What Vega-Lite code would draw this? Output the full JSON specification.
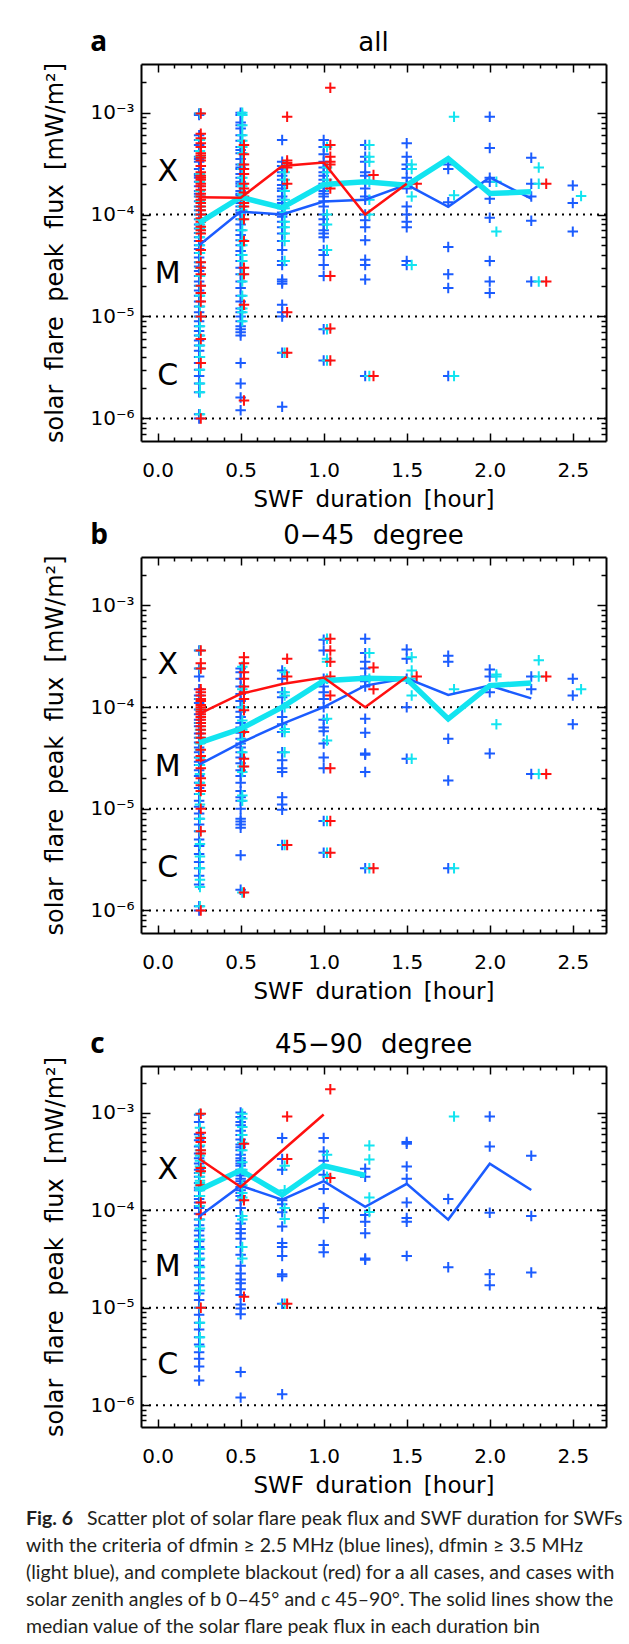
{
"$schema":"https://vega.github.io/schema/vega-lite/v6.json",
"background":"white",
"padding":{"left":26,"top":28,"right":5,"bottom":0},
"spacing":78,
"bounds":"flush",
"datasets":{
"refs":[{"y":1e-4},{"y":1e-5},{"y":1e-6}],
"cls":[{"t":"X","y":2.6e-4},{"t":"M","y":2.6e-5},{"t":"C","y":2.6e-6}],
"ttl":[{"p":"a","letter":"a","title":"all"},{"p":"b","letter":"b","title":"0−45\u2002\u2009degree"},{"p":"c","letter":"c","title":"45−90\u2002\u2009degree"}],
"cap":[
{"line":1,"part":"fig","text":"Fig. 6"},
{"line":1,"part":"first","text":"Scatter plot of solar flare peak flux and SWF duration for SWFs"},
{"line":2,"part":"rest","text":"with the criteria of dfmin ≥ 2.5 MHz (blue lines), dfmin ≥ 3.5 MHz"},
{"line":3,"part":"rest","text":"(light blue), and complete blackout (red) for a all cases, and cases with"},
{"line":4,"part":"rest","text":"solar zenith angles of b 0–45° and c 45–90°. The solid lines show the"},
{"line":5,"part":"rest","text":"median value of the solar flare peak flux in each duration bin"}],
"med":[
{"p":"a","s":"b","x":0.25,"y":5e-5},{"p":"a","s":"b","x":0.5,"y":1.07e-4},{"p":"a","s":"b","x":0.75,"y":1e-4},{"p":"a","s":"b","x":1,"y":1.34e-4},{"p":"a","s":"b","x":1.25,"y":1.4e-4},{"p":"a","s":"b","x":1.5,"y":1.97e-4},{"p":"a","s":"b","x":1.75,"y":1.19e-4},{"p":"a","s":"b","x":2,"y":2.31e-4},{"p":"a","s":"b","x":2.25,"y":1.43e-4},
{"p":"a","s":"c","x":0.25,"y":8.3e-5},{"p":"a","s":"c","x":0.5,"y":1.48e-4},{"p":"a","s":"c","x":0.75,"y":1.17e-4},{"p":"a","s":"c","x":1,"y":1.97e-4},{"p":"a","s":"c","x":1.25,"y":2.1e-4},{"p":"a","s":"c","x":1.5,"y":1.94e-4},{"p":"a","s":"c","x":1.75,"y":3.54e-4},{"p":"a","s":"c","x":2,"y":1.61e-4},{"p":"a","s":"c","x":2.25,"y":1.67e-4},
{"p":"a","s":"r","x":0.25,"y":1.48e-4},{"p":"a","s":"r","x":0.5,"y":1.46e-4},{"p":"a","s":"r","x":0.75,"y":2.99e-4},{"p":"a","s":"r","x":1,"y":3.24e-4},{"p":"a","s":"r","x":1.25,"y":1e-4},{"p":"a","s":"r","x":1.5,"y":2e-4},
{"p":"b","s":"b","x":0.25,"y":2.72e-5},{"p":"b","s":"b","x":0.5,"y":4.45e-5},{"p":"b","s":"b","x":0.75,"y":6.86e-5},{"p":"b","s":"b","x":1,"y":1e-4},{"p":"b","s":"b","x":1.25,"y":1.63e-4},{"p":"b","s":"b","x":1.5,"y":1.92e-4},{"p":"b","s":"b","x":1.75,"y":1.32e-4},{"p":"b","s":"b","x":2,"y":1.63e-4},{"p":"b","s":"b","x":2.25,"y":1.22e-4},
{"p":"b","s":"c","x":0.25,"y":4.45e-5},{"p":"b","s":"c","x":0.5,"y":6.12e-5},{"p":"b","s":"c","x":0.75,"y":1e-4},{"p":"b","s":"c","x":1,"y":1.82e-4},{"p":"b","s":"c","x":1.25,"y":1.92e-4},{"p":"b","s":"c","x":1.5,"y":1.89e-4},{"p":"b","s":"c","x":1.75,"y":7.67e-5},{"p":"b","s":"c","x":2,"y":1.63e-4},{"p":"b","s":"c","x":2.25,"y":1.73e-4},
{"p":"b","s":"r","x":0.25,"y":8.6e-5},{"p":"b","s":"r","x":0.5,"y":1.35e-4},{"p":"b","s":"r","x":0.75,"y":1.69e-4},{"p":"b","s":"r","x":1,"y":1.96e-4},{"p":"b","s":"r","x":1.25,"y":1e-4},{"p":"b","s":"r","x":1.5,"y":1.99e-4},
{"p":"c","s":"b","x":0.25,"y":8.6e-5},{"p":"c","s":"b","x":0.5,"y":1.78e-4},{"p":"c","s":"b","x":0.75,"y":1.28e-4},{"p":"c","s":"b","x":1,"y":1.98e-4},{"p":"c","s":"b","x":1.25,"y":1.08e-4},{"p":"c","s":"b","x":1.5,"y":1.86e-4},{"p":"c","s":"b","x":1.75,"y":8e-5},{"p":"c","s":"b","x":2,"y":2.99e-4},{"p":"c","s":"b","x":2.25,"y":1.61e-4},
{"p":"c","s":"c","x":0.25,"y":1.61e-4},{"p":"c","s":"c","x":0.5,"y":2.56e-4},{"p":"c","s":"c","x":0.75,"y":1.44e-4},{"p":"c","s":"c","x":1,"y":2.85e-4},{"p":"c","s":"c","x":1.25,"y":2.27e-4},
{"p":"c","s":"r","x":0.25,"y":3.36e-4},{"p":"c","s":"r","x":0.5,"y":1.73e-4},{"p":"c","s":"r","x":1,"y":9.56e-4}],
"pts":[
{"p":"a","s":"b","x":0.25,"y":9.8e-4},{"p":"a","s":"b","x":0.25,"y":9.5e-4},{"p":"a","s":"b","x":0.25,"y":6e-4},{"p":"a","s":"b","x":0.25,"y":5.4e-4},{"p":"a","s":"b","x":0.25,"y":4.8e-4},{"p":"a","s":"b","x":0.25,"y":4.2e-4},{"p":"a","s":"b","x":0.25,"y":3.7e-4},{"p":"a","s":"b","x":0.25,"y":3.5e-4},{"p":"a","s":"b","x":0.25,"y":3.3e-4},{"p":"a","s":"b","x":0.25,"y":2.8e-4},{"p":"a","s":"b","x":0.25,"y":2.5e-4},{"p":"a","s":"b","x":0.25,"y":2.4e-4},{"p":"a","s":"b","x":0.25,"y":2.3e-4},{"p":"a","s":"b","x":0.25,"y":2.1e-4},{"p":"a","s":"b","x":0.25,"y":1.9e-4},{"p":"a","s":"b","x":0.25,"y":1.7e-4},{"p":"a","s":"b","x":0.25,"y":1.6e-4},{"p":"a","s":"b","x":0.25,"y":1.5e-4},{"p":"a","s":"b","x":0.25,"y":1.35e-4},{"p":"a","s":"b","x":0.25,"y":1.2e-4},{"p":"a","s":"b","x":0.25,"y":1.1e-4},{"p":"a","s":"b","x":0.25,"y":1e-4},{"p":"a","s":"b","x":0.25,"y":9e-5},{"p":"a","s":"b","x":0.25,"y":8e-5},{"p":"a","s":"b","x":0.25,"y":7.3e-5},{"p":"a","s":"b","x":0.25,"y":6.6e-5},{"p":"a","s":"b","x":0.25,"y":6e-5},{"p":"a","s":"b","x":0.25,"y":5.5e-5},{"p":"a","s":"b","x":0.25,"y":5e-5},{"p":"a","s":"b","x":0.25,"y":4.6e-5},{"p":"a","s":"b","x":0.25,"y":4.2e-5},{"p":"a","s":"b","x":0.25,"y":3.8e-5},{"p":"a","s":"b","x":0.25,"y":3.4e-5},{"p":"a","s":"b","x":0.25,"y":3.1e-5},{"p":"a","s":"b","x":0.25,"y":2.8e-5},{"p":"a","s":"b","x":0.25,"y":2.5e-5},{"p":"a","s":"b","x":0.25,"y":2.2e-5},{"p":"a","s":"b","x":0.25,"y":2e-5},{"p":"a","s":"b","x":0.25,"y":1.8e-5},{"p":"a","s":"b","x":0.25,"y":1.6e-5},{"p":"a","s":"b","x":0.25,"y":1.4e-5},{"p":"a","s":"b","x":0.25,"y":1.25e-5},{"p":"a","s":"b","x":0.25,"y":1.1e-5},{"p":"a","s":"b","x":0.25,"y":1e-5},{"p":"a","s":"b","x":0.25,"y":9e-6},{"p":"a","s":"b","x":0.25,"y":8e-6},{"p":"a","s":"b","x":0.25,"y":7.2e-6},{"p":"a","s":"b","x":0.25,"y":6.5e-6},{"p":"a","s":"b","x":0.25,"y":5.8e-6},{"p":"a","s":"b","x":0.25,"y":5.2e-6},{"p":"a","s":"b","x":0.25,"y":4.6e-6},{"p":"a","s":"b","x":0.25,"y":4e-6},{"p":"a","s":"b","x":0.25,"y":3.5e-6},{"p":"a","s":"b","x":0.25,"y":3e-6},{"p":"a","s":"b","x":0.25,"y":2.6e-6},{"p":"a","s":"b","x":0.25,"y":2.2e-6},{"p":"a","s":"b","x":0.25,"y":1.8e-6},{"p":"a","s":"b","x":0.25,"y":1.1e-6},{"p":"a","s":"b","x":0.25,"y":1e-6},
{"p":"a","s":"b","x":0.5,"y":1e-3},{"p":"a","s":"b","x":0.5,"y":9.5e-4},{"p":"a","s":"b","x":0.5,"y":8e-4},{"p":"a","s":"b","x":0.5,"y":7.5e-4},{"p":"a","s":"b","x":0.5,"y":7e-4},{"p":"a","s":"b","x":0.5,"y":6e-4},{"p":"a","s":"b","x":0.5,"y":5.3e-4},{"p":"a","s":"b","x":0.5,"y":4.6e-4},{"p":"a","s":"b","x":0.5,"y":4.3e-4},{"p":"a","s":"b","x":0.5,"y":4e-4},{"p":"a","s":"b","x":0.5,"y":3.5e-4},{"p":"a","s":"b","x":0.5,"y":3.1e-4},{"p":"a","s":"b","x":0.5,"y":2.9e-4},{"p":"a","s":"b","x":0.5,"y":2.8e-4},{"p":"a","s":"b","x":0.5,"y":2.5e-4},{"p":"a","s":"b","x":0.5,"y":2.3e-4},{"p":"a","s":"b","x":0.5,"y":2.1e-4},{"p":"a","s":"b","x":0.5,"y":2e-4},{"p":"a","s":"b","x":0.5,"y":1.9e-4},{"p":"a","s":"b","x":0.5,"y":1.7e-4},{"p":"a","s":"b","x":0.5,"y":1.6e-4},{"p":"a","s":"b","x":0.5,"y":1.55e-4},{"p":"a","s":"b","x":0.5,"y":1.4e-4},{"p":"a","s":"b","x":0.5,"y":1.3e-4},{"p":"a","s":"b","x":0.5,"y":1.2e-4},{"p":"a","s":"b","x":0.5,"y":1.1e-4},{"p":"a","s":"b","x":0.5,"y":1.05e-4},{"p":"a","s":"b","x":0.5,"y":1e-4},{"p":"a","s":"b","x":0.5,"y":9e-5},{"p":"a","s":"b","x":0.5,"y":8e-5},{"p":"a","s":"b","x":0.5,"y":7e-5},{"p":"a","s":"b","x":0.5,"y":6.3e-5},{"p":"a","s":"b","x":0.5,"y":5.6e-5},{"p":"a","s":"b","x":0.5,"y":5e-5},{"p":"a","s":"b","x":0.5,"y":4.4e-5},{"p":"a","s":"b","x":0.5,"y":4e-5},{"p":"a","s":"b","x":0.5,"y":3.5e-5},{"p":"a","s":"b","x":0.5,"y":3e-5},{"p":"a","s":"b","x":0.5,"y":2.6e-5},{"p":"a","s":"b","x":0.5,"y":2.2e-5},{"p":"a","s":"b","x":0.5,"y":1.9e-5},{"p":"a","s":"b","x":0.5,"y":1.6e-5},{"p":"a","s":"b","x":0.5,"y":1.4e-5},{"p":"a","s":"b","x":0.5,"y":1.2e-5},{"p":"a","s":"b","x":0.5,"y":1.1e-5},{"p":"a","s":"b","x":0.5,"y":1e-5},{"p":"a","s":"b","x":0.5,"y":9e-6},{"p":"a","s":"b","x":0.5,"y":8e-6},{"p":"a","s":"b","x":0.5,"y":7.5e-6},{"p":"a","s":"b","x":0.5,"y":7e-6},{"p":"a","s":"b","x":0.5,"y":6.5e-6},{"p":"a","s":"b","x":0.5,"y":3.5e-6},{"p":"a","s":"b","x":0.5,"y":2.2e-6},{"p":"a","s":"b","x":0.5,"y":1.6e-6},{"p":"a","s":"b","x":0.5,"y":1.2e-6},
{"p":"a","s":"b","x":0.75,"y":5.4e-4},{"p":"a","s":"b","x":0.75,"y":3.3e-4},{"p":"a","s":"b","x":0.75,"y":3e-4},{"p":"a","s":"b","x":0.75,"y":2.8e-4},{"p":"a","s":"b","x":0.75,"y":2.6e-4},{"p":"a","s":"b","x":0.75,"y":2.4e-4},{"p":"a","s":"b","x":0.75,"y":2.2e-4},{"p":"a","s":"b","x":0.75,"y":1.95e-4},{"p":"a","s":"b","x":0.75,"y":1.8e-4},{"p":"a","s":"b","x":0.75,"y":1.7e-4},{"p":"a","s":"b","x":0.75,"y":1.5e-4},{"p":"a","s":"b","x":0.75,"y":1.4e-4},{"p":"a","s":"b","x":0.75,"y":1.3e-4},{"p":"a","s":"b","x":0.75,"y":1.15e-4},{"p":"a","s":"b","x":0.75,"y":1.05e-4},{"p":"a","s":"b","x":0.75,"y":1e-4},{"p":"a","s":"b","x":0.75,"y":9.5e-5},{"p":"a","s":"b","x":0.75,"y":8.5e-5},{"p":"a","s":"b","x":0.75,"y":7.5e-5},{"p":"a","s":"b","x":0.75,"y":6.5e-5},{"p":"a","s":"b","x":0.75,"y":5.5e-5},{"p":"a","s":"b","x":0.75,"y":4.5e-5},{"p":"a","s":"b","x":0.75,"y":3.5e-5},{"p":"a","s":"b","x":0.75,"y":3.2e-5},{"p":"a","s":"b","x":0.75,"y":2.3e-5},{"p":"a","s":"b","x":0.75,"y":2.2e-5},{"p":"a","s":"b","x":0.75,"y":2.1e-5},{"p":"a","s":"b","x":0.75,"y":1.3e-5},{"p":"a","s":"b","x":0.75,"y":1.1e-5},{"p":"a","s":"b","x":0.75,"y":1e-5},{"p":"a","s":"b","x":0.75,"y":4.4e-6},{"p":"a","s":"b","x":0.75,"y":1.3e-6},
{"p":"a","s":"b","x":1,"y":5.4e-4},{"p":"a","s":"b","x":1,"y":4.6e-4},{"p":"a","s":"b","x":1,"y":3.9e-4},{"p":"a","s":"b","x":1,"y":3.3e-4},{"p":"a","s":"b","x":1,"y":2.9e-4},{"p":"a","s":"b","x":1,"y":2.6e-4},{"p":"a","s":"b","x":1,"y":2.4e-4},{"p":"a","s":"b","x":1,"y":2.2e-4},{"p":"a","s":"b","x":1,"y":2e-4},{"p":"a","s":"b","x":1,"y":1.9e-4},{"p":"a","s":"b","x":1,"y":1.7e-4},{"p":"a","s":"b","x":1,"y":1.6e-4},{"p":"a","s":"b","x":1,"y":1.5e-4},{"p":"a","s":"b","x":1,"y":1.35e-4},{"p":"a","s":"b","x":1,"y":1.2e-4},{"p":"a","s":"b","x":1,"y":1e-4},{"p":"a","s":"b","x":1,"y":9e-5},{"p":"a","s":"b","x":1,"y":8e-5},{"p":"a","s":"b","x":1,"y":7e-5},{"p":"a","s":"b","x":1,"y":6.5e-5},{"p":"a","s":"b","x":1,"y":6e-5},{"p":"a","s":"b","x":1,"y":4.5e-5},{"p":"a","s":"b","x":1,"y":4e-5},{"p":"a","s":"b","x":1,"y":3.2e-5},{"p":"a","s":"b","x":1,"y":2.5e-5},{"p":"a","s":"b","x":1,"y":7.5e-6},{"p":"a","s":"b","x":1,"y":3.7e-6},
{"p":"a","s":"b","x":1.25,"y":4.8e-4},{"p":"a","s":"b","x":1.25,"y":3.7e-4},{"p":"a","s":"b","x":1.25,"y":3.3e-4},{"p":"a","s":"b","x":1.25,"y":2.6e-4},{"p":"a","s":"b","x":1.25,"y":2.4e-4},{"p":"a","s":"b","x":1.25,"y":2.1e-4},{"p":"a","s":"b","x":1.25,"y":1.8e-4},{"p":"a","s":"b","x":1.25,"y":1.5e-4},{"p":"a","s":"b","x":1.25,"y":1.4e-4},{"p":"a","s":"b","x":1.25,"y":1e-4},{"p":"a","s":"b","x":1.25,"y":8.8e-5},{"p":"a","s":"b","x":1.25,"y":7.5e-5},{"p":"a","s":"b","x":1.25,"y":5.6e-5},{"p":"a","s":"b","x":1.25,"y":3.6e-5},{"p":"a","s":"b","x":1.25,"y":3.2e-5},{"p":"a","s":"b","x":1.25,"y":2.3e-5},{"p":"a","s":"b","x":1.25,"y":2.6e-6},
{"p":"a","s":"b","x":1.5,"y":5e-4},{"p":"a","s":"b","x":1.5,"y":3.7e-4},{"p":"a","s":"b","x":1.5,"y":3.1e-4},{"p":"a","s":"b","x":1.5,"y":2.8e-4},{"p":"a","s":"b","x":1.5,"y":2.3e-4},{"p":"a","s":"b","x":1.5,"y":2e-4},{"p":"a","s":"b","x":1.5,"y":1.8e-4},{"p":"a","s":"b","x":1.5,"y":1.2e-4},{"p":"a","s":"b","x":1.5,"y":1e-4},{"p":"a","s":"b","x":1.5,"y":8.5e-5},{"p":"a","s":"b","x":1.5,"y":7.5e-5},{"p":"a","s":"b","x":1.5,"y":3.5e-5},{"p":"a","s":"b","x":1.5,"y":3.2e-5},
{"p":"a","s":"b","x":1.75,"y":3.1e-4},{"p":"a","s":"b","x":1.75,"y":2.8e-4},{"p":"a","s":"b","x":1.75,"y":1.32e-4},{"p":"a","s":"b","x":1.75,"y":4.8e-5},{"p":"a","s":"b","x":1.75,"y":2.6e-5},{"p":"a","s":"b","x":1.75,"y":1.9e-5},{"p":"a","s":"b","x":1.75,"y":2.6e-6},
{"p":"a","s":"b","x":2,"y":9.1e-4},{"p":"a","s":"b","x":2,"y":4.5e-4},{"p":"a","s":"b","x":2,"y":2.3e-4},{"p":"a","s":"b","x":2,"y":2.1e-4},{"p":"a","s":"b","x":2,"y":1.43e-4},{"p":"a","s":"b","x":2,"y":9.3e-5},{"p":"a","s":"b","x":2,"y":3.5e-5},{"p":"a","s":"b","x":2,"y":2.2e-5},{"p":"a","s":"b","x":2,"y":1.7e-5},
{"p":"a","s":"b","x":2.25,"y":3.6e-4},{"p":"a","s":"b","x":2.25,"y":2e-4},{"p":"a","s":"b","x":2.25,"y":1.5e-4},{"p":"a","s":"b","x":2.25,"y":8.7e-5},{"p":"a","s":"b","x":2.25,"y":2.2e-5},
{"p":"a","s":"b","x":2.5,"y":1.93e-4},{"p":"a","s":"b","x":2.5,"y":1.3e-4},{"p":"a","s":"b","x":2.5,"y":6.8e-5},
{"p":"a","s":"c","x":0.255,"y":9.8e-4},{"p":"a","s":"c","x":0.255,"y":5.4e-4},{"p":"a","s":"c","x":0.255,"y":4.2e-4},{"p":"a","s":"c","x":0.255,"y":3.7e-4},{"p":"a","s":"c","x":0.255,"y":2.5e-4},{"p":"a","s":"c","x":0.255,"y":2.1e-4},{"p":"a","s":"c","x":0.255,"y":1.7e-4},{"p":"a","s":"c","x":0.255,"y":1.5e-4},{"p":"a","s":"c","x":0.255,"y":1.35e-4},{"p":"a","s":"c","x":0.255,"y":1.2e-4},{"p":"a","s":"c","x":0.255,"y":1.1e-4},{"p":"a","s":"c","x":0.255,"y":1e-4},{"p":"a","s":"c","x":0.255,"y":9e-5},{"p":"a","s":"c","x":0.255,"y":8e-5},{"p":"a","s":"c","x":0.255,"y":7.3e-5},{"p":"a","s":"c","x":0.255,"y":6.6e-5},{"p":"a","s":"c","x":0.255,"y":6e-5},{"p":"a","s":"c","x":0.255,"y":5e-5},{"p":"a","s":"c","x":0.255,"y":4.2e-5},{"p":"a","s":"c","x":0.255,"y":3.4e-5},{"p":"a","s":"c","x":0.255,"y":3e-5},{"p":"a","s":"c","x":0.255,"y":2.5e-5},{"p":"a","s":"c","x":0.255,"y":2e-5},{"p":"a","s":"c","x":0.255,"y":1.6e-5},{"p":"a","s":"c","x":0.255,"y":1.25e-5},{"p":"a","s":"c","x":0.255,"y":1e-5},{"p":"a","s":"c","x":0.255,"y":8e-6},{"p":"a","s":"c","x":0.255,"y":6.5e-6},{"p":"a","s":"c","x":0.255,"y":5.2e-6},{"p":"a","s":"c","x":0.255,"y":4e-6},{"p":"a","s":"c","x":0.255,"y":3e-6},{"p":"a","s":"c","x":0.255,"y":2.2e-6},{"p":"a","s":"c","x":0.255,"y":1.8e-6},{"p":"a","s":"c","x":0.255,"y":1.1e-6},
{"p":"a","s":"c","x":0.51,"y":1e-3},{"p":"a","s":"c","x":0.51,"y":9.5e-4},{"p":"a","s":"c","x":0.51,"y":7.5e-4},{"p":"a","s":"c","x":0.51,"y":6e-4},{"p":"a","s":"c","x":0.51,"y":5.3e-4},{"p":"a","s":"c","x":0.51,"y":4.6e-4},{"p":"a","s":"c","x":0.51,"y":4e-4},{"p":"a","s":"c","x":0.51,"y":3.1e-4},{"p":"a","s":"c","x":0.51,"y":2.8e-4},{"p":"a","s":"c","x":0.51,"y":2.3e-4},{"p":"a","s":"c","x":0.51,"y":2e-4},{"p":"a","s":"c","x":0.51,"y":1.9e-4},{"p":"a","s":"c","x":0.51,"y":1.6e-4},{"p":"a","s":"c","x":0.51,"y":1.4e-4},{"p":"a","s":"c","x":0.51,"y":1.2e-4},{"p":"a","s":"c","x":0.51,"y":1.1e-4},{"p":"a","s":"c","x":0.51,"y":9e-5},{"p":"a","s":"c","x":0.51,"y":7e-5},{"p":"a","s":"c","x":0.51,"y":5.6e-5},{"p":"a","s":"c","x":0.51,"y":5e-5},{"p":"a","s":"c","x":0.51,"y":4e-5},{"p":"a","s":"c","x":0.51,"y":3.5e-5},{"p":"a","s":"c","x":0.51,"y":2.6e-5},{"p":"a","s":"c","x":0.51,"y":2.2e-5},{"p":"a","s":"c","x":0.51,"y":1.6e-5},{"p":"a","s":"c","x":0.51,"y":1.2e-5},{"p":"a","s":"c","x":0.51,"y":1.1e-5},{"p":"a","s":"c","x":0.51,"y":9e-6},
{"p":"a","s":"c","x":0.765,"y":3e-4},{"p":"a","s":"c","x":0.765,"y":2.6e-4},{"p":"a","s":"c","x":0.765,"y":2.2e-4},{"p":"a","s":"c","x":0.765,"y":1.7e-4},{"p":"a","s":"c","x":0.765,"y":1.4e-4},{"p":"a","s":"c","x":0.765,"y":1.15e-4},{"p":"a","s":"c","x":0.765,"y":1.05e-4},{"p":"a","s":"c","x":0.765,"y":8.5e-5},{"p":"a","s":"c","x":0.765,"y":7.5e-5},{"p":"a","s":"c","x":0.765,"y":6.5e-5},{"p":"a","s":"c","x":0.765,"y":5.5e-5},{"p":"a","s":"c","x":0.765,"y":3.5e-5},{"p":"a","s":"c","x":0.765,"y":4.4e-6},
{"p":"a","s":"c","x":1.02,"y":4.6e-4},{"p":"a","s":"c","x":1.02,"y":2.9e-4},{"p":"a","s":"c","x":1.02,"y":2.6e-4},{"p":"a","s":"c","x":1.02,"y":2.2e-4},{"p":"a","s":"c","x":1.02,"y":2e-4},{"p":"a","s":"c","x":1.02,"y":1.9e-4},{"p":"a","s":"c","x":1.02,"y":1e-4},{"p":"a","s":"c","x":1.02,"y":8e-5},{"p":"a","s":"c","x":1.02,"y":4.5e-5},{"p":"a","s":"c","x":1.02,"y":7.5e-6},{"p":"a","s":"c","x":1.02,"y":3.7e-6},
{"p":"a","s":"c","x":1.275,"y":4.8e-4},{"p":"a","s":"c","x":1.275,"y":3.7e-4},{"p":"a","s":"c","x":1.275,"y":3.3e-4},{"p":"a","s":"c","x":1.275,"y":2.1e-4},{"p":"a","s":"c","x":1.275,"y":1.4e-4},{"p":"a","s":"c","x":1.275,"y":1e-4},{"p":"a","s":"c","x":1.275,"y":2.6e-6},
{"p":"a","s":"c","x":1.53,"y":3.1e-4},{"p":"a","s":"c","x":1.53,"y":2.8e-4},{"p":"a","s":"c","x":1.53,"y":2e-4},{"p":"a","s":"c","x":1.53,"y":1.5e-4},{"p":"a","s":"c","x":1.53,"y":3.2e-5},
{"p":"a","s":"c","x":1.785,"y":9.1e-4},{"p":"a","s":"c","x":1.785,"y":1.55e-4},{"p":"a","s":"c","x":1.785,"y":2.6e-6},
{"p":"a","s":"c","x":2.04,"y":2.1e-4},{"p":"a","s":"c","x":2.04,"y":6.8e-5},
{"p":"a","s":"c","x":2.295,"y":2.9e-4},{"p":"a","s":"c","x":2.295,"y":2e-4},{"p":"a","s":"c","x":2.295,"y":2.2e-5},
{"p":"a","s":"c","x":2.55,"y":1.52e-4},
{"p":"a","s":"r","x":0.26,"y":9.8e-4},{"p":"a","s":"r","x":0.26,"y":6.2e-4},{"p":"a","s":"r","x":0.26,"y":5.6e-4},{"p":"a","s":"r","x":0.26,"y":5e-4},{"p":"a","s":"r","x":0.26,"y":4.6e-4},{"p":"a","s":"r","x":0.26,"y":4e-4},{"p":"a","s":"r","x":0.26,"y":3.8e-4},{"p":"a","s":"r","x":0.26,"y":3.6e-4},{"p":"a","s":"r","x":0.26,"y":3.4e-4},{"p":"a","s":"r","x":0.26,"y":3e-4},{"p":"a","s":"r","x":0.26,"y":2.6e-4},{"p":"a","s":"r","x":0.26,"y":2.4e-4},{"p":"a","s":"r","x":0.26,"y":2.3e-4},{"p":"a","s":"r","x":0.26,"y":2.2e-4},{"p":"a","s":"r","x":0.26,"y":2e-4},{"p":"a","s":"r","x":0.26,"y":1.9e-4},{"p":"a","s":"r","x":0.26,"y":1.75e-4},{"p":"a","s":"r","x":0.26,"y":1.6e-4},{"p":"a","s":"r","x":0.26,"y":1.5e-4},{"p":"a","s":"r","x":0.26,"y":1.4e-4},{"p":"a","s":"r","x":0.26,"y":1.3e-4},{"p":"a","s":"r","x":0.26,"y":1.2e-4},{"p":"a","s":"r","x":0.26,"y":1.1e-4},{"p":"a","s":"r","x":0.26,"y":1e-4},{"p":"a","s":"r","x":0.26,"y":9.2e-5},{"p":"a","s":"r","x":0.26,"y":8.5e-5},{"p":"a","s":"r","x":0.26,"y":7.6e-5},{"p":"a","s":"r","x":0.26,"y":7e-5},{"p":"a","s":"r","x":0.26,"y":6.5e-5},{"p":"a","s":"r","x":0.26,"y":5.5e-5},{"p":"a","s":"r","x":0.26,"y":4.5e-5},{"p":"a","s":"r","x":0.26,"y":3.4e-5},{"p":"a","s":"r","x":0.26,"y":3e-5},{"p":"a","s":"r","x":0.26,"y":2.6e-5},{"p":"a","s":"r","x":0.26,"y":2e-5},{"p":"a","s":"r","x":0.26,"y":1.7e-5},{"p":"a","s":"r","x":0.26,"y":1.4e-5},{"p":"a","s":"r","x":0.26,"y":1e-5},{"p":"a","s":"r","x":0.26,"y":6e-6},{"p":"a","s":"r","x":0.26,"y":3.5e-6},{"p":"a","s":"r","x":0.26,"y":1e-6},
{"p":"a","s":"r","x":0.52,"y":4.8e-4},{"p":"a","s":"r","x":0.52,"y":3.9e-4},{"p":"a","s":"r","x":0.52,"y":3.1e-4},{"p":"a","s":"r","x":0.52,"y":2.8e-4},{"p":"a","s":"r","x":0.52,"y":2.5e-4},{"p":"a","s":"r","x":0.52,"y":2e-4},{"p":"a","s":"r","x":0.52,"y":1.8e-4},{"p":"a","s":"r","x":0.52,"y":1.65e-4},{"p":"a","s":"r","x":0.52,"y":1.5e-4},{"p":"a","s":"r","x":0.52,"y":1.4e-4},{"p":"a","s":"r","x":0.52,"y":1.3e-4},{"p":"a","s":"r","x":0.52,"y":1.2e-4},{"p":"a","s":"r","x":0.52,"y":9e-5},{"p":"a","s":"r","x":0.52,"y":5.5e-5},{"p":"a","s":"r","x":0.52,"y":3e-5},{"p":"a","s":"r","x":0.52,"y":2.6e-5},{"p":"a","s":"r","x":0.52,"y":1.3e-5},{"p":"a","s":"r","x":0.52,"y":1.5e-6},
{"p":"a","s":"r","x":0.78,"y":9.1e-4},{"p":"a","s":"r","x":0.78,"y":3.4e-4},{"p":"a","s":"r","x":0.78,"y":3.2e-4},{"p":"a","s":"r","x":0.78,"y":2.9e-4},{"p":"a","s":"r","x":0.78,"y":2e-4},{"p":"a","s":"r","x":0.78,"y":1.1e-5},{"p":"a","s":"r","x":0.78,"y":4.4e-6},
{"p":"a","s":"r","x":1.04,"y":1.75e-3},{"p":"a","s":"r","x":1.04,"y":4.8e-4},{"p":"a","s":"r","x":1.04,"y":3.7e-4},{"p":"a","s":"r","x":1.04,"y":3.3e-4},{"p":"a","s":"r","x":1.04,"y":3.1e-4},{"p":"a","s":"r","x":1.04,"y":2e-4},{"p":"a","s":"r","x":1.04,"y":1.8e-4},{"p":"a","s":"r","x":1.04,"y":2.5e-5},{"p":"a","s":"r","x":1.04,"y":7.6e-6},{"p":"a","s":"r","x":1.04,"y":3.7e-6},
{"p":"a","s":"r","x":1.3,"y":2.45e-4},{"p":"a","s":"r","x":1.3,"y":2.6e-6},
{"p":"a","s":"r","x":1.56,"y":2e-4},
{"p":"a","s":"r","x":2.34,"y":2e-4},{"p":"a","s":"r","x":2.34,"y":2.2e-5},
{"p":"b","s":"b","x":0.25,"y":3.6e-4},{"p":"b","s":"b","x":0.25,"y":2.4e-4},{"p":"b","s":"b","x":0.25,"y":2e-4},{"p":"b","s":"b","x":0.25,"y":1.5e-4},{"p":"b","s":"b","x":0.25,"y":1.3e-4},{"p":"b","s":"b","x":0.25,"y":1.2e-4},{"p":"b","s":"b","x":0.25,"y":1.1e-4},{"p":"b","s":"b","x":0.25,"y":9.5e-5},{"p":"b","s":"b","x":0.25,"y":8.5e-5},{"p":"b","s":"b","x":0.25,"y":7.5e-5},{"p":"b","s":"b","x":0.25,"y":7e-5},{"p":"b","s":"b","x":0.25,"y":6.5e-5},{"p":"b","s":"b","x":0.25,"y":5.5e-5},{"p":"b","s":"b","x":0.25,"y":5e-5},{"p":"b","s":"b","x":0.25,"y":4.5e-5},{"p":"b","s":"b","x":0.25,"y":4e-5},{"p":"b","s":"b","x":0.25,"y":3.6e-5},{"p":"b","s":"b","x":0.25,"y":3.2e-5},{"p":"b","s":"b","x":0.25,"y":2.9e-5},{"p":"b","s":"b","x":0.25,"y":2.7e-5},{"p":"b","s":"b","x":0.25,"y":2.4e-5},{"p":"b","s":"b","x":0.25,"y":2.1e-5},{"p":"b","s":"b","x":0.25,"y":1.8e-5},{"p":"b","s":"b","x":0.25,"y":1.6e-5},{"p":"b","s":"b","x":0.25,"y":1.4e-5},{"p":"b","s":"b","x":0.25,"y":1.2e-5},{"p":"b","s":"b","x":0.25,"y":1.05e-5},{"p":"b","s":"b","x":0.25,"y":9e-6},{"p":"b","s":"b","x":0.25,"y":8e-6},{"p":"b","s":"b","x":0.25,"y":7e-6},{"p":"b","s":"b","x":0.25,"y":6e-6},{"p":"b","s":"b","x":0.25,"y":5e-6},{"p":"b","s":"b","x":0.25,"y":4.3e-6},{"p":"b","s":"b","x":0.25,"y":3.6e-6},{"p":"b","s":"b","x":0.25,"y":3e-6},{"p":"b","s":"b","x":0.25,"y":2.6e-6},{"p":"b","s":"b","x":0.25,"y":2.2e-6},{"p":"b","s":"b","x":0.25,"y":1.8e-6},{"p":"b","s":"b","x":0.25,"y":1.1e-6},{"p":"b","s":"b","x":0.25,"y":1e-6},
{"p":"b","s":"b","x":0.5,"y":2.4e-4},{"p":"b","s":"b","x":0.5,"y":2.2e-4},{"p":"b","s":"b","x":0.5,"y":1.9e-4},{"p":"b","s":"b","x":0.5,"y":1.6e-4},{"p":"b","s":"b","x":0.5,"y":1.35e-4},{"p":"b","s":"b","x":0.5,"y":1.15e-4},{"p":"b","s":"b","x":0.5,"y":1e-4},{"p":"b","s":"b","x":0.5,"y":9e-5},{"p":"b","s":"b","x":0.5,"y":8e-5},{"p":"b","s":"b","x":0.5,"y":7e-5},{"p":"b","s":"b","x":0.5,"y":6.3e-5},{"p":"b","s":"b","x":0.5,"y":5.6e-5},{"p":"b","s":"b","x":0.5,"y":4.9e-5},{"p":"b","s":"b","x":0.5,"y":4.4e-5},{"p":"b","s":"b","x":0.5,"y":4e-5},{"p":"b","s":"b","x":0.5,"y":3.6e-5},{"p":"b","s":"b","x":0.5,"y":3.2e-5},{"p":"b","s":"b","x":0.5,"y":2.8e-5},{"p":"b","s":"b","x":0.5,"y":2.4e-5},{"p":"b","s":"b","x":0.5,"y":2.1e-5},{"p":"b","s":"b","x":0.5,"y":1.8e-5},{"p":"b","s":"b","x":0.5,"y":1.5e-5},{"p":"b","s":"b","x":0.5,"y":1.3e-5},{"p":"b","s":"b","x":0.5,"y":1.2e-5},{"p":"b","s":"b","x":0.5,"y":1e-5},{"p":"b","s":"b","x":0.5,"y":8e-6},{"p":"b","s":"b","x":0.5,"y":7.5e-6},{"p":"b","s":"b","x":0.5,"y":7e-6},{"p":"b","s":"b","x":0.5,"y":6.5e-6},{"p":"b","s":"b","x":0.5,"y":3.5e-6},{"p":"b","s":"b","x":0.5,"y":1.6e-6},
{"p":"b","s":"b","x":0.75,"y":2.3e-4},{"p":"b","s":"b","x":0.75,"y":1.9e-4},{"p":"b","s":"b","x":0.75,"y":1.4e-4},{"p":"b","s":"b","x":0.75,"y":1.25e-4},{"p":"b","s":"b","x":0.75,"y":1e-4},{"p":"b","s":"b","x":0.75,"y":8e-5},{"p":"b","s":"b","x":0.75,"y":6.8e-5},{"p":"b","s":"b","x":0.75,"y":5.7e-5},{"p":"b","s":"b","x":0.75,"y":3.6e-5},{"p":"b","s":"b","x":0.75,"y":3e-5},{"p":"b","s":"b","x":0.75,"y":2.5e-5},{"p":"b","s":"b","x":0.75,"y":2.3e-5},{"p":"b","s":"b","x":0.75,"y":1.3e-5},{"p":"b","s":"b","x":0.75,"y":1.1e-5},{"p":"b","s":"b","x":0.75,"y":9.8e-6},{"p":"b","s":"b","x":0.75,"y":4.4e-6},
{"p":"b","s":"b","x":1,"y":4.6e-4},{"p":"b","s":"b","x":1,"y":3.6e-4},{"p":"b","s":"b","x":1,"y":1.9e-4},{"p":"b","s":"b","x":1,"y":1.6e-4},{"p":"b","s":"b","x":1,"y":1.4e-4},{"p":"b","s":"b","x":1,"y":1.2e-4},{"p":"b","s":"b","x":1,"y":1e-4},{"p":"b","s":"b","x":1,"y":7.5e-5},{"p":"b","s":"b","x":1,"y":6.3e-5},{"p":"b","s":"b","x":1,"y":5.8e-5},{"p":"b","s":"b","x":1,"y":4.4e-5},{"p":"b","s":"b","x":1,"y":3.2e-5},{"p":"b","s":"b","x":1,"y":2.5e-5},{"p":"b","s":"b","x":1,"y":7.6e-6},{"p":"b","s":"b","x":1,"y":3.7e-6},
{"p":"b","s":"b","x":1.25,"y":4.7e-4},{"p":"b","s":"b","x":1.25,"y":3.4e-4},{"p":"b","s":"b","x":1.25,"y":2.8e-4},{"p":"b","s":"b","x":1.25,"y":2.4e-4},{"p":"b","s":"b","x":1.25,"y":2e-4},{"p":"b","s":"b","x":1.25,"y":1.8e-4},{"p":"b","s":"b","x":1.25,"y":1.6e-4},{"p":"b","s":"b","x":1.25,"y":7.7e-5},{"p":"b","s":"b","x":1.25,"y":5.6e-5},{"p":"b","s":"b","x":1.25,"y":3.5e-5},{"p":"b","s":"b","x":1.25,"y":3.4e-5},{"p":"b","s":"b","x":1.25,"y":2.3e-5},{"p":"b","s":"b","x":1.25,"y":2.6e-6},
{"p":"b","s":"b","x":1.5,"y":3.7e-4},{"p":"b","s":"b","x":1.5,"y":3e-4},{"p":"b","s":"b","x":1.5,"y":1.9e-4},{"p":"b","s":"b","x":1.5,"y":1e-4},{"p":"b","s":"b","x":1.5,"y":3.1e-5},
{"p":"b","s":"b","x":1.75,"y":3.2e-4},{"p":"b","s":"b","x":1.75,"y":2.8e-4},{"p":"b","s":"b","x":1.75,"y":4.9e-5},{"p":"b","s":"b","x":1.75,"y":1.9e-5},{"p":"b","s":"b","x":1.75,"y":2.6e-6},
{"p":"b","s":"b","x":2,"y":2.35e-4},{"p":"b","s":"b","x":2,"y":2e-4},{"p":"b","s":"b","x":2,"y":1.4e-4},{"p":"b","s":"b","x":2,"y":3.5e-5},
{"p":"b","s":"b","x":2.25,"y":2e-4},{"p":"b","s":"b","x":2.25,"y":1.5e-4},{"p":"b","s":"b","x":2.25,"y":2.2e-5},
{"p":"b","s":"b","x":2.5,"y":1.9e-4},{"p":"b","s":"b","x":2.5,"y":1.3e-4},{"p":"b","s":"b","x":2.5,"y":6.8e-5},
{"p":"b","s":"c","x":0.255,"y":3.6e-4},{"p":"b","s":"c","x":0.255,"y":2.4e-4},{"p":"b","s":"c","x":0.255,"y":1.2e-4},{"p":"b","s":"c","x":0.255,"y":9.5e-5},{"p":"b","s":"c","x":0.255,"y":7e-5},{"p":"b","s":"c","x":0.255,"y":6e-5},{"p":"b","s":"c","x":0.255,"y":5e-5},{"p":"b","s":"c","x":0.255,"y":4.4e-5},{"p":"b","s":"c","x":0.255,"y":3.8e-5},{"p":"b","s":"c","x":0.255,"y":3.2e-5},{"p":"b","s":"c","x":0.255,"y":2.7e-5},{"p":"b","s":"c","x":0.255,"y":2.2e-5},{"p":"b","s":"c","x":0.255,"y":1.8e-5},{"p":"b","s":"c","x":0.255,"y":1.4e-5},{"p":"b","s":"c","x":0.255,"y":1.1e-5},{"p":"b","s":"c","x":0.255,"y":8e-6},{"p":"b","s":"c","x":0.255,"y":6e-6},{"p":"b","s":"c","x":0.255,"y":4.5e-6},{"p":"b","s":"c","x":0.255,"y":3.4e-6},{"p":"b","s":"c","x":0.255,"y":2.6e-6},{"p":"b","s":"c","x":0.255,"y":2e-6},{"p":"b","s":"c","x":0.255,"y":1.7e-6},{"p":"b","s":"c","x":0.255,"y":1.1e-6},
{"p":"b","s":"c","x":0.51,"y":2.5e-4},{"p":"b","s":"c","x":0.51,"y":1.5e-4},{"p":"b","s":"c","x":0.51,"y":1e-4},{"p":"b","s":"c","x":0.51,"y":7.4e-5},{"p":"b","s":"c","x":0.51,"y":6e-5},{"p":"b","s":"c","x":0.51,"y":4.8e-5},{"p":"b","s":"c","x":0.51,"y":3.6e-5},{"p":"b","s":"c","x":0.51,"y":2.6e-5},{"p":"b","s":"c","x":0.51,"y":2.3e-5},{"p":"b","s":"c","x":0.51,"y":1.35e-5},{"p":"b","s":"c","x":0.51,"y":1.2e-5},{"p":"b","s":"c","x":0.51,"y":1.5e-6},
{"p":"b","s":"c","x":0.765,"y":2.2e-4},{"p":"b","s":"c","x":0.765,"y":1.4e-4},{"p":"b","s":"c","x":0.765,"y":1.3e-4},{"p":"b","s":"c","x":0.765,"y":1e-4},{"p":"b","s":"c","x":0.765,"y":6.1e-5},{"p":"b","s":"c","x":0.765,"y":5.7e-5},{"p":"b","s":"c","x":0.765,"y":3.6e-5},{"p":"b","s":"c","x":0.765,"y":4.4e-6},
{"p":"b","s":"c","x":1.02,"y":4.7e-4},{"p":"b","s":"c","x":1.02,"y":3e-4},{"p":"b","s":"c","x":1.02,"y":2.8e-4},{"p":"b","s":"c","x":1.02,"y":1.9e-4},{"p":"b","s":"c","x":1.02,"y":7.7e-5},{"p":"b","s":"c","x":1.02,"y":4.7e-5},{"p":"b","s":"c","x":1.02,"y":7.6e-6},{"p":"b","s":"c","x":1.02,"y":3.7e-6},
{"p":"b","s":"c","x":1.275,"y":3.4e-4},{"p":"b","s":"c","x":1.275,"y":1.9e-4},{"p":"b","s":"c","x":1.275,"y":2.6e-6},
{"p":"b","s":"c","x":1.53,"y":3.1e-4},{"p":"b","s":"c","x":1.53,"y":2.3e-4},{"p":"b","s":"c","x":1.53,"y":1.9e-4},{"p":"b","s":"c","x":1.53,"y":1.3e-4},{"p":"b","s":"c","x":1.53,"y":3.1e-5},
{"p":"b","s":"c","x":1.785,"y":1.5e-4},{"p":"b","s":"c","x":1.785,"y":2.6e-6},
{"p":"b","s":"c","x":2.04,"y":2.1e-4},{"p":"b","s":"c","x":2.04,"y":2e-4},{"p":"b","s":"c","x":2.04,"y":6.8e-5},
{"p":"b","s":"c","x":2.295,"y":2.9e-4},{"p":"b","s":"c","x":2.295,"y":2e-4},{"p":"b","s":"c","x":2.295,"y":2.2e-5},
{"p":"b","s":"c","x":2.55,"y":1.5e-4},
{"p":"b","s":"r","x":0.26,"y":3.6e-4},{"p":"b","s":"r","x":0.26,"y":2.7e-4},{"p":"b","s":"r","x":0.26,"y":2.4e-4},{"p":"b","s":"r","x":0.26,"y":1.5e-4},{"p":"b","s":"r","x":0.26,"y":1.4e-4},{"p":"b","s":"r","x":0.26,"y":1.3e-4},{"p":"b","s":"r","x":0.26,"y":1.2e-4},{"p":"b","s":"r","x":0.26,"y":1.15e-4},{"p":"b","s":"r","x":0.26,"y":1.05e-4},{"p":"b","s":"r","x":0.26,"y":1e-4},{"p":"b","s":"r","x":0.26,"y":9.5e-5},{"p":"b","s":"r","x":0.26,"y":9e-5},{"p":"b","s":"r","x":0.26,"y":8.5e-5},{"p":"b","s":"r","x":0.26,"y":8e-5},{"p":"b","s":"r","x":0.26,"y":7.5e-5},{"p":"b","s":"r","x":0.26,"y":7e-5},{"p":"b","s":"r","x":0.26,"y":6.5e-5},{"p":"b","s":"r","x":0.26,"y":6e-5},{"p":"b","s":"r","x":0.26,"y":5.5e-5},{"p":"b","s":"r","x":0.26,"y":5e-5},{"p":"b","s":"r","x":0.26,"y":4.5e-5},{"p":"b","s":"r","x":0.26,"y":3.8e-5},{"p":"b","s":"r","x":0.26,"y":3.3e-5},{"p":"b","s":"r","x":0.26,"y":3e-5},{"p":"b","s":"r","x":0.26,"y":2.5e-5},{"p":"b","s":"r","x":0.26,"y":2e-5},{"p":"b","s":"r","x":0.26,"y":1.7e-5},{"p":"b","s":"r","x":0.26,"y":1.5e-5},{"p":"b","s":"r","x":0.26,"y":1e-5},{"p":"b","s":"r","x":0.26,"y":6e-6},{"p":"b","s":"r","x":0.26,"y":1e-6},
{"p":"b","s":"r","x":0.52,"y":3.1e-4},{"p":"b","s":"r","x":0.52,"y":2.7e-4},{"p":"b","s":"r","x":0.52,"y":2.2e-4},{"p":"b","s":"r","x":0.52,"y":1.9e-4},{"p":"b","s":"r","x":0.52,"y":1.6e-4},{"p":"b","s":"r","x":0.52,"y":1.4e-4},{"p":"b","s":"r","x":0.52,"y":1.2e-4},{"p":"b","s":"r","x":0.52,"y":9.3e-5},{"p":"b","s":"r","x":0.52,"y":5.7e-5},{"p":"b","s":"r","x":0.52,"y":3.1e-5},{"p":"b","s":"r","x":0.52,"y":2.6e-5},{"p":"b","s":"r","x":0.52,"y":1.5e-6},
{"p":"b","s":"r","x":0.78,"y":3e-4},{"p":"b","s":"r","x":0.78,"y":2e-4},{"p":"b","s":"r","x":0.78,"y":4.4e-6},
{"p":"b","s":"r","x":1.04,"y":4.7e-4},{"p":"b","s":"r","x":1.04,"y":3.6e-4},{"p":"b","s":"r","x":1.04,"y":2.8e-4},{"p":"b","s":"r","x":1.04,"y":2e-4},{"p":"b","s":"r","x":1.04,"y":1.3e-4},{"p":"b","s":"r","x":1.04,"y":2.5e-5},{"p":"b","s":"r","x":1.04,"y":7.6e-6},{"p":"b","s":"r","x":1.04,"y":3.7e-6},
{"p":"b","s":"r","x":1.3,"y":2.45e-4},{"p":"b","s":"r","x":1.3,"y":1.5e-4},{"p":"b","s":"r","x":1.3,"y":2.6e-6},
{"p":"b","s":"r","x":1.56,"y":2e-4},
{"p":"b","s":"r","x":2.34,"y":2e-4},{"p":"b","s":"r","x":2.34,"y":2.2e-5},
{"p":"c","s":"b","x":0.25,"y":9.5e-4},{"p":"c","s":"b","x":0.25,"y":8e-4},{"p":"c","s":"b","x":0.25,"y":6e-4},{"p":"c","s":"b","x":0.25,"y":5.2e-4},{"p":"c","s":"b","x":0.25,"y":4.5e-4},{"p":"c","s":"b","x":0.25,"y":3.8e-4},{"p":"c","s":"b","x":0.25,"y":3.4e-4},{"p":"c","s":"b","x":0.25,"y":3e-4},{"p":"c","s":"b","x":0.25,"y":2.6e-4},{"p":"c","s":"b","x":0.25,"y":2.4e-4},{"p":"c","s":"b","x":0.25,"y":2.2e-4},{"p":"c","s":"b","x":0.25,"y":1.9e-4},{"p":"c","s":"b","x":0.25,"y":1.7e-4},{"p":"c","s":"b","x":0.25,"y":1.6e-4},{"p":"c","s":"b","x":0.25,"y":1.4e-4},{"p":"c","s":"b","x":0.25,"y":1.3e-4},{"p":"c","s":"b","x":0.25,"y":1.2e-4},{"p":"c","s":"b","x":0.25,"y":1.1e-4},{"p":"c","s":"b","x":0.25,"y":1.05e-4},{"p":"c","s":"b","x":0.25,"y":9.2e-5},{"p":"c","s":"b","x":0.25,"y":8e-5},{"p":"c","s":"b","x":0.25,"y":7e-5},{"p":"c","s":"b","x":0.25,"y":6.2e-5},{"p":"c","s":"b","x":0.25,"y":5.5e-5},{"p":"c","s":"b","x":0.25,"y":4.8e-5},{"p":"c","s":"b","x":0.25,"y":4.2e-5},{"p":"c","s":"b","x":0.25,"y":3.6e-5},{"p":"c","s":"b","x":0.25,"y":3.1e-5},{"p":"c","s":"b","x":0.25,"y":2.7e-5},{"p":"c","s":"b","x":0.25,"y":2.3e-5},{"p":"c","s":"b","x":0.25,"y":2e-5},{"p":"c","s":"b","x":0.25,"y":1.7e-5},{"p":"c","s":"b","x":0.25,"y":1.4e-5},{"p":"c","s":"b","x":0.25,"y":1.2e-5},{"p":"c","s":"b","x":0.25,"y":1e-5},{"p":"c","s":"b","x":0.25,"y":8.5e-6},{"p":"c","s":"b","x":0.25,"y":7e-6},{"p":"c","s":"b","x":0.25,"y":6e-6},{"p":"c","s":"b","x":0.25,"y":5e-6},{"p":"c","s":"b","x":0.25,"y":4.2e-6},{"p":"c","s":"b","x":0.25,"y":3.5e-6},{"p":"c","s":"b","x":0.25,"y":3e-6},{"p":"c","s":"b","x":0.25,"y":2.5e-6},{"p":"c","s":"b","x":0.25,"y":1.8e-6},
{"p":"c","s":"b","x":0.5,"y":1e-3},{"p":"c","s":"b","x":0.5,"y":9e-4},{"p":"c","s":"b","x":0.5,"y":8e-4},{"p":"c","s":"b","x":0.5,"y":7.4e-4},{"p":"c","s":"b","x":0.5,"y":6.5e-4},{"p":"c","s":"b","x":0.5,"y":5.9e-4},{"p":"c","s":"b","x":0.5,"y":5.3e-4},{"p":"c","s":"b","x":0.5,"y":4.7e-4},{"p":"c","s":"b","x":0.5,"y":4.4e-4},{"p":"c","s":"b","x":0.5,"y":4.1e-4},{"p":"c","s":"b","x":0.5,"y":3.7e-4},{"p":"c","s":"b","x":0.5,"y":3.4e-4},{"p":"c","s":"b","x":0.5,"y":3.2e-4},{"p":"c","s":"b","x":0.5,"y":3e-4},{"p":"c","s":"b","x":0.5,"y":2.85e-4},{"p":"c","s":"b","x":0.5,"y":2.6e-4},{"p":"c","s":"b","x":0.5,"y":2.4e-4},{"p":"c","s":"b","x":0.5,"y":2.27e-4},{"p":"c","s":"b","x":0.5,"y":2.1e-4},{"p":"c","s":"b","x":0.5,"y":1.98e-4},{"p":"c","s":"b","x":0.5,"y":1.85e-4},{"p":"c","s":"b","x":0.5,"y":1.73e-4},{"p":"c","s":"b","x":0.5,"y":1.6e-4},{"p":"c","s":"b","x":0.5,"y":1.5e-4},{"p":"c","s":"b","x":0.5,"y":1.4e-4},{"p":"c","s":"b","x":0.5,"y":1.26e-4},{"p":"c","s":"b","x":0.5,"y":1.05e-4},{"p":"c","s":"b","x":0.5,"y":8.7e-5},{"p":"c","s":"b","x":0.5,"y":7.3e-5},{"p":"c","s":"b","x":0.5,"y":6.4e-5},{"p":"c","s":"b","x":0.5,"y":5.8e-5},{"p":"c","s":"b","x":0.5,"y":5.1e-5},{"p":"c","s":"b","x":0.5,"y":4.2e-5},{"p":"c","s":"b","x":0.5,"y":3.5e-5},{"p":"c","s":"b","x":0.5,"y":2.7e-5},{"p":"c","s":"b","x":0.5,"y":2.25e-5},{"p":"c","s":"b","x":0.5,"y":1.95e-5},{"p":"c","s":"b","x":0.5,"y":1.78e-5},{"p":"c","s":"b","x":0.5,"y":1.55e-5},{"p":"c","s":"b","x":0.5,"y":1.35e-5},{"p":"c","s":"b","x":0.5,"y":1.08e-5},{"p":"c","s":"b","x":0.5,"y":9.8e-6},{"p":"c","s":"b","x":0.5,"y":8.6e-6},{"p":"c","s":"b","x":0.5,"y":2.2e-6},{"p":"c","s":"b","x":0.5,"y":1.2e-6},
{"p":"c","s":"b","x":0.75,"y":5.5e-4},{"p":"c","s":"b","x":0.75,"y":3.35e-4},{"p":"c","s":"b","x":0.75,"y":2.6e-4},{"p":"c","s":"b","x":0.75,"y":1.26e-4},{"p":"c","s":"b","x":0.75,"y":1.15e-4},{"p":"c","s":"b","x":0.75,"y":9.5e-5},{"p":"c","s":"b","x":0.75,"y":6.8e-5},{"p":"c","s":"b","x":0.75,"y":4.6e-5},{"p":"c","s":"b","x":0.75,"y":4.2e-5},{"p":"c","s":"b","x":0.75,"y":3.4e-5},{"p":"c","s":"b","x":0.75,"y":2.2e-5},{"p":"c","s":"b","x":0.75,"y":2.1e-5},{"p":"c","s":"b","x":0.75,"y":1.1e-5},{"p":"c","s":"b","x":0.75,"y":1.3e-6},
{"p":"c","s":"b","x":1,"y":5.5e-4},{"p":"c","s":"b","x":1,"y":4e-4},{"p":"c","s":"b","x":1,"y":3.2e-4},{"p":"c","s":"b","x":1,"y":2.3e-4},{"p":"c","s":"b","x":1,"y":1.65e-4},{"p":"c","s":"b","x":1,"y":1.05e-4},{"p":"c","s":"b","x":1,"y":8.3e-5},{"p":"c","s":"b","x":1,"y":4.4e-5},{"p":"c","s":"b","x":1,"y":3.7e-5},
{"p":"c","s":"b","x":1.25,"y":2.65e-4},{"p":"c","s":"b","x":1.25,"y":2.2e-4},{"p":"c","s":"b","x":1.25,"y":8.9e-5},{"p":"c","s":"b","x":1.25,"y":7.6e-5},{"p":"c","s":"b","x":1.25,"y":5.8e-5},{"p":"c","s":"b","x":1.25,"y":3.2e-5},{"p":"c","s":"b","x":1.25,"y":3.1e-5},
{"p":"c","s":"b","x":1.5,"y":5e-4},{"p":"c","s":"b","x":1.5,"y":4.8e-4},{"p":"c","s":"b","x":1.5,"y":2.8e-4},{"p":"c","s":"b","x":1.5,"y":2.1e-4},{"p":"c","s":"b","x":1.5,"y":1.2e-4},{"p":"c","s":"b","x":1.5,"y":8.3e-5},{"p":"c","s":"b","x":1.5,"y":7.6e-5},{"p":"c","s":"b","x":1.5,"y":3.4e-5},
{"p":"c","s":"b","x":1.75,"y":1.3e-4},{"p":"c","s":"b","x":1.75,"y":2.6e-5},
{"p":"c","s":"b","x":2,"y":9.1e-4},{"p":"c","s":"b","x":2,"y":4.5e-4},{"p":"c","s":"b","x":2,"y":9.4e-5},{"p":"c","s":"b","x":2,"y":2.2e-5},{"p":"c","s":"b","x":2,"y":1.7e-5},
{"p":"c","s":"b","x":2.25,"y":3.6e-4},{"p":"c","s":"b","x":2.25,"y":8.7e-5},{"p":"c","s":"b","x":2.25,"y":2.3e-5},
{"p":"c","s":"c","x":0.255,"y":9.7e-4},{"p":"c","s":"c","x":0.255,"y":7e-4},{"p":"c","s":"c","x":0.255,"y":5.6e-4},{"p":"c","s":"c","x":0.255,"y":4.6e-4},{"p":"c","s":"c","x":0.255,"y":4.1e-4},{"p":"c","s":"c","x":0.255,"y":3.6e-4},{"p":"c","s":"c","x":0.255,"y":3.2e-4},{"p":"c","s":"c","x":0.255,"y":2.8e-4},{"p":"c","s":"c","x":0.255,"y":2.4e-4},{"p":"c","s":"c","x":0.255,"y":2.2e-4},{"p":"c","s":"c","x":0.255,"y":2e-4},{"p":"c","s":"c","x":0.255,"y":1.9e-4},{"p":"c","s":"c","x":0.255,"y":1.8e-4},{"p":"c","s":"c","x":0.255,"y":1.7e-4},{"p":"c","s":"c","x":0.255,"y":1.6e-4},{"p":"c","s":"c","x":0.255,"y":1.4e-4},{"p":"c","s":"c","x":0.255,"y":1.1e-4},{"p":"c","s":"c","x":0.255,"y":8e-5},{"p":"c","s":"c","x":0.255,"y":6.5e-5},{"p":"c","s":"c","x":0.255,"y":5e-5},{"p":"c","s":"c","x":0.255,"y":4e-5},{"p":"c","s":"c","x":0.255,"y":3.2e-5},{"p":"c","s":"c","x":0.255,"y":2.6e-5},{"p":"c","s":"c","x":0.255,"y":2e-5},{"p":"c","s":"c","x":0.255,"y":1.5e-5},{"p":"c","s":"c","x":0.255,"y":1e-5},{"p":"c","s":"c","x":0.255,"y":7e-6},{"p":"c","s":"c","x":0.255,"y":5e-6},{"p":"c","s":"c","x":0.255,"y":4e-6},
{"p":"c","s":"c","x":0.51,"y":9.7e-4},{"p":"c","s":"c","x":0.51,"y":8.7e-4},{"p":"c","s":"c","x":0.51,"y":7.1e-4},{"p":"c","s":"c","x":0.51,"y":5.9e-4},{"p":"c","s":"c","x":0.51,"y":4.9e-4},{"p":"c","s":"c","x":0.51,"y":4.1e-4},{"p":"c","s":"c","x":0.51,"y":3.1e-4},{"p":"c","s":"c","x":0.51,"y":2.6e-4},{"p":"c","s":"c","x":0.51,"y":1.8e-4},{"p":"c","s":"c","x":0.51,"y":1.5e-4},{"p":"c","s":"c","x":0.51,"y":1.35e-4},{"p":"c","s":"c","x":0.51,"y":8.7e-5},{"p":"c","s":"c","x":0.51,"y":8e-5},{"p":"c","s":"c","x":0.51,"y":4.2e-5},{"p":"c","s":"c","x":0.51,"y":3.2e-5},
{"p":"c","s":"c","x":0.765,"y":2.85e-4},{"p":"c","s":"c","x":0.765,"y":1.6e-4},{"p":"c","s":"c","x":0.765,"y":1.05e-4},{"p":"c","s":"c","x":0.765,"y":8.1e-5},{"p":"c","s":"c","x":0.765,"y":1.1e-5},
{"p":"c","s":"c","x":1.02,"y":3.7e-4},{"p":"c","s":"c","x":1.02,"y":2.2e-4},
{"p":"c","s":"c","x":1.275,"y":4.6e-4},{"p":"c","s":"c","x":1.275,"y":3.3e-4},{"p":"c","s":"c","x":1.275,"y":1.35e-4},{"p":"c","s":"c","x":1.275,"y":9.6e-5},
{"p":"c","s":"c","x":1.785,"y":9.1e-4},
{"p":"c","s":"r","x":0.26,"y":9.7e-4},{"p":"c","s":"r","x":0.26,"y":6.2e-4},{"p":"c","s":"r","x":0.26,"y":5.5e-4},{"p":"c","s":"r","x":0.26,"y":5e-4},{"p":"c","s":"r","x":0.26,"y":4.1e-4},{"p":"c","s":"r","x":0.26,"y":3.8e-4},{"p":"c","s":"r","x":0.26,"y":2.7e-4},{"p":"c","s":"r","x":0.26,"y":2.5e-4},{"p":"c","s":"r","x":0.26,"y":1.8e-4},{"p":"c","s":"r","x":0.26,"y":1.2e-4},{"p":"c","s":"r","x":0.26,"y":9.1e-5},{"p":"c","s":"r","x":0.26,"y":1e-5},
{"p":"c","s":"r","x":0.52,"y":4.8e-4},{"p":"c","s":"r","x":0.52,"y":1.26e-4},{"p":"c","s":"r","x":0.52,"y":1.3e-5},
{"p":"c","s":"r","x":0.78,"y":9.1e-4},{"p":"c","s":"r","x":0.78,"y":3.35e-4},{"p":"c","s":"r","x":0.78,"y":1.1e-5},
{"p":"c","s":"r","x":1.04,"y":1.73e-3},{"p":"c","s":"r","x":1.04,"y":2.13e-4}
]},
"vconcat":[
{"width":465,"height":377,
"layer":[
{"data":{"name":"refs"},"mark":{"type":"rule","strokeDash":[2,5],"strokeWidth":2,"color":"black"},"encoding":{"y":{"field":"y","type":"quantitative","scale":{"type":"log","domain":[6e-7,0.003],"nice":false},"axis":null}}},
{"data":{"name":"pts"},"transform":[{"filter":"datum.p=='a'&&datum.s=='b'"}],"mark":{"type":"point","shape":"M-1,0H1M0,-1V1","size":110,"filled":false,"strokeWidth":2,"color":"#1b5cff","opacity":1},
"encoding":{"x":{"field":"x","type":"quantitative","scale":{"domain":[-0.1,2.7],"nice":false,"zero":false},"axis":{"orient":"bottom","values":[0,0.5,1,1.5,2,2.5],"format":".1f","tickSize":-8,"labelPadding":27,"title":"SWF\u2002duration\u2002[hour]","titlePadding":8,"titleFontSize":23}},
"y":{"field":"y","type":"quantitative","scale":{"type":"log","domain":[6e-7,0.003],"nice":false},"axis":{"orient":"left","values":[1e-6,1e-5,1e-4,0.001],"tickSize":-9,"labelPadding":16,"labelExpr":"'10' + (datum.value > 5e-4 ? '⁻³' : datum.value > 5e-5 ? '⁻⁴' : datum.value > 5e-6 ? '⁻⁵' : '⁻⁶')","title":"solar\u2002\u200aflare\u2002\u200apeak\u2002\u200aflux\u2002\u200a[mW/m²]","titlePadding":22,"titleFontSize":24}}}},
{"data":{"name":"pts"},"transform":[{"filter":"datum.p=='a'&&datum.s=='c'"}],"mark":{"type":"point","shape":"M-1,0H1M0,-1V1","size":110,"filled":false,"strokeWidth":2,"color":"#12e4f0","opacity":1},
"encoding":{"x":{"field":"x","type":"quantitative","scale":{"domain":[-0.1,2.7],"nice":false,"zero":false},"axis":{"orient":"top","values":[0,0.5,1,1.5,2,2.5],"tickSize":-8,"labels":false,"title":null}},
"y":{"field":"y","type":"quantitative","scale":{"type":"log","domain":[6e-7,0.003],"nice":false},"axis":{"orient":"right","values":[1e-6,1e-5,1e-4,0.001],"tickSize":-9,"labels":false,"title":null}}}},
{"data":{"name":"pts"},"transform":[{"filter":"datum.p=='a'&&datum.s=='r'"}],"mark":{"type":"point","shape":"M-1,0H1M0,-1V1","size":110,"filled":false,"strokeWidth":2,"color":"#ff1010","opacity":1},
"encoding":{"x":{"field":"x","type":"quantitative","scale":{"domain":[-0.1,2.7],"nice":false,"zero":false},"axis":{"orient":"bottom","values":[0.1,0.2,0.3,0.4,0.6,0.7,0.8,0.9,1.1,1.2,1.3,1.4,1.6,1.7,1.8,1.9,2.1,2.2,2.3,2.4,2.6],"tickSize":-4,"labels":false,"domain":false,"title":null}},
"y":{"field":"y","type":"quantitative","scale":{"type":"log","domain":[6e-7,0.003],"nice":false},"axis":{"orient":"left","values":[7e-7,8e-7,9e-7,2e-6,3e-6,4e-6,5e-6,6e-6,7e-6,8e-6,9e-6,2e-5,3e-5,4e-5,5e-5,6e-5,7e-5,8e-5,9e-5,2e-4,3e-4,4e-4,5e-4,6e-4,7e-4,8e-4,9e-4,0.002],"tickSize":-5,"labels":false,"domain":false,"title":null}}}},
{"data":{"name":"med"},"transform":[{"filter":"datum.p=='a'&&datum.s=='b'"}],"mark":{"type":"line","color":"#1b5cff","strokeWidth":2.5},
"encoding":{"x":{"field":"x","type":"quantitative","scale":{"domain":[-0.1,2.7],"nice":false,"zero":false},"axis":{"orient":"top","values":[0.1,0.2,0.3,0.4,0.6,0.7,0.8,0.9,1.1,1.2,1.3,1.4,1.6,1.7,1.8,1.9,2.1,2.2,2.3,2.4,2.6],"tickSize":-4,"labels":false,"domain":false,"title":null}},
"y":{"field":"y","type":"quantitative","scale":{"type":"log","domain":[6e-7,0.003],"nice":false},"axis":{"orient":"right","values":[7e-7,8e-7,9e-7,2e-6,3e-6,4e-6,5e-6,6e-6,7e-6,8e-6,9e-6,2e-5,3e-5,4e-5,5e-5,6e-5,7e-5,8e-5,9e-5,2e-4,3e-4,4e-4,5e-4,6e-4,7e-4,8e-4,9e-4,0.002],"tickSize":-5,"labels":false,"domain":false,"title":null}}}},
{"data":{"name":"med"},"transform":[{"filter":"datum.p=='a'&&datum.s=='c'"}],"mark":{"type":"line","color":"#12e4f0","strokeWidth":5.5},
"encoding":{"x":{"field":"x","type":"quantitative","scale":{"domain":[-0.1,2.7],"nice":false,"zero":false},"axis":null},"y":{"field":"y","type":"quantitative","scale":{"type":"log","domain":[6e-7,0.003],"nice":false},"axis":null}}},
{"data":{"name":"med"},"transform":[{"filter":"datum.p=='a'&&datum.s=='r'"}],"mark":{"type":"line","color":"#ff1010","strokeWidth":2.5},
"encoding":{"x":{"field":"x","type":"quantitative","scale":{"domain":[-0.1,2.7],"nice":false,"zero":false},"axis":null},"y":{"field":"y","type":"quantitative","scale":{"type":"log","domain":[6e-7,0.003],"nice":false},"axis":null}}},
{"data":{"name":"cls"},"mark":{"type":"text","font":"DejaVu Sans","fontSize":30,"align":"center","baseline":"middle","color":"black"},
"encoding":{"x":{"datum":0.061,"type":"quantitative","scale":{"domain":[-0.1,2.7],"nice":false,"zero":false},"axis":null},"y":{"field":"y","type":"quantitative","scale":{"type":"log","domain":[6e-7,0.003],"nice":false},"axis":null},"text":{"field":"t"}}},
{"data":{"name":"ttl"},"transform":[{"filter":"datum.p=='a'"}],"mark":{"type":"text","font":"DejaVu Sans","fontSize":26,"align":"center","baseline":"alphabetic","color":"black"},
"encoding":{"x":{"datum":1.3,"type":"quantitative","scale":{"domain":[-0.1,2.7],"nice":false,"zero":false},"axis":null},"y":{"datum":0.00405,"type":"quantitative","scale":{"type":"log","domain":[6e-7,0.003],"nice":false},"axis":null},"text":{"field":"title"}}},
{"data":{"name":"ttl"},"transform":[{"filter":"datum.p=='a'"}],"mark":{"type":"text","font":"Open Sans","fontSize":28,"fontWeight":"bold","align":"left","baseline":"alphabetic","color":"black"},
"encoding":{"x":{"datum":-0.405,"type":"quantitative","scale":{"domain":[-0.1,2.7],"nice":false,"zero":false},"axis":null},"y":{"datum":0.00405,"type":"quantitative","scale":{"type":"log","domain":[6e-7,0.003],"nice":false},"axis":null},"text":{"field":"letter"}}}
],
"resolve":{"axis":{"x":"independent","y":"independent"}}},
{"width":465,"height":414,
"layer":[
{"data":{"name":"refs"},"mark":{"type":"rule","strokeDash":[2,5],"strokeWidth":2,"color":"black"},"encoding":{"y":{"field":"y","type":"quantitative","scale":{"type":"log","domain":[6e-7,0.003],"nice":false,"range":[414,38]},"axis":null}}},
{"data":{"name":"pts"},"transform":[{"filter":"datum.p=='b'&&datum.s=='b'"}],"mark":{"type":"point","shape":"M-1,0H1M0,-1V1","size":110,"filled":false,"strokeWidth":2,"color":"#1b5cff","opacity":1},
"encoding":{"x":{"field":"x","type":"quantitative","scale":{"domain":[-0.1,2.7],"nice":false,"zero":false},"axis":{"orient":"bottom","values":[0,0.5,1,1.5,2,2.5],"format":".1f","tickSize":-8,"labelPadding":27,"title":"SWF\u2002duration\u2002[hour]","titlePadding":8,"titleFontSize":23}},
"y":{"field":"y","type":"quantitative","scale":{"type":"log","domain":[6e-7,0.003],"nice":false,"range":[414,38]},"axis":{"orient":"left","values":[1e-6,1e-5,1e-4,0.001],"tickSize":-9,"labelPadding":16,"labelExpr":"'10' + (datum.value > 5e-4 ? '⁻³' : datum.value > 5e-5 ? '⁻⁴' : datum.value > 5e-6 ? '⁻⁵' : '⁻⁶')","title":"solar\u2002\u200aflare\u2002\u200apeak\u2002\u200aflux\u2002\u200a[mW/m²]","titlePadding":22,"titleFontSize":24}}}},
{"data":{"name":"pts"},"transform":[{"filter":"datum.p=='b'&&datum.s=='c'"}],"mark":{"type":"point","shape":"M-1,0H1M0,-1V1","size":110,"filled":false,"strokeWidth":2,"color":"#12e4f0","opacity":1},
"encoding":{"x":{"field":"x","type":"quantitative","scale":{"domain":[-0.1,2.7],"nice":false,"zero":false},"axis":{"orient":"top","offset":-38,"values":[0,0.5,1,1.5,2,2.5],"tickSize":-8,"labels":false,"title":null}},
"y":{"field":"y","type":"quantitative","scale":{"type":"log","domain":[6e-7,0.003],"nice":false,"range":[414,38]},"axis":{"orient":"right","values":[1e-6,1e-5,1e-4,0.001],"tickSize":-9,"labels":false,"title":null}}}},
{"data":{"name":"pts"},"transform":[{"filter":"datum.p=='b'&&datum.s=='r'"}],"mark":{"type":"point","shape":"M-1,0H1M0,-1V1","size":110,"filled":false,"strokeWidth":2,"color":"#ff1010","opacity":1},
"encoding":{"x":{"field":"x","type":"quantitative","scale":{"domain":[-0.1,2.7],"nice":false,"zero":false},"axis":{"orient":"bottom","values":[0.1,0.2,0.3,0.4,0.6,0.7,0.8,0.9,1.1,1.2,1.3,1.4,1.6,1.7,1.8,1.9,2.1,2.2,2.3,2.4,2.6],"tickSize":-4,"labels":false,"domain":false,"title":null}},
"y":{"field":"y","type":"quantitative","scale":{"type":"log","domain":[6e-7,0.003],"nice":false,"range":[414,38]},"axis":{"orient":"left","values":[7e-7,8e-7,9e-7,2e-6,3e-6,4e-6,5e-6,6e-6,7e-6,8e-6,9e-6,2e-5,3e-5,4e-5,5e-5,6e-5,7e-5,8e-5,9e-5,2e-4,3e-4,4e-4,5e-4,6e-4,7e-4,8e-4,9e-4,0.002],"tickSize":-5,"labels":false,"domain":false,"title":null}}}},
{"data":{"name":"med"},"transform":[{"filter":"datum.p=='b'&&datum.s=='b'"}],"mark":{"type":"line","color":"#1b5cff","strokeWidth":2.5},
"encoding":{"x":{"field":"x","type":"quantitative","scale":{"domain":[-0.1,2.7],"nice":false,"zero":false},"axis":{"orient":"top","offset":-38,"values":[0.1,0.2,0.3,0.4,0.6,0.7,0.8,0.9,1.1,1.2,1.3,1.4,1.6,1.7,1.8,1.9,2.1,2.2,2.3,2.4,2.6],"tickSize":-4,"labels":false,"domain":false,"title":null}},
"y":{"field":"y","type":"quantitative","scale":{"type":"log","domain":[6e-7,0.003],"nice":false,"range":[414,38]},"axis":{"orient":"right","values":[7e-7,8e-7,9e-7,2e-6,3e-6,4e-6,5e-6,6e-6,7e-6,8e-6,9e-6,2e-5,3e-5,4e-5,5e-5,6e-5,7e-5,8e-5,9e-5,2e-4,3e-4,4e-4,5e-4,6e-4,7e-4,8e-4,9e-4,0.002],"tickSize":-5,"labels":false,"domain":false,"title":null}}}},
{"data":{"name":"med"},"transform":[{"filter":"datum.p=='b'&&datum.s=='c'"}],"mark":{"type":"line","color":"#12e4f0","strokeWidth":5.5},
"encoding":{"x":{"field":"x","type":"quantitative","scale":{"domain":[-0.1,2.7],"nice":false,"zero":false},"axis":null},"y":{"field":"y","type":"quantitative","scale":{"type":"log","domain":[6e-7,0.003],"nice":false,"range":[414,38]},"axis":null}}},
{"data":{"name":"med"},"transform":[{"filter":"datum.p=='b'&&datum.s=='r'"}],"mark":{"type":"line","color":"#ff1010","strokeWidth":2.5},
"encoding":{"x":{"field":"x","type":"quantitative","scale":{"domain":[-0.1,2.7],"nice":false,"zero":false},"axis":null},"y":{"field":"y","type":"quantitative","scale":{"type":"log","domain":[6e-7,0.003],"nice":false,"range":[414,38]},"axis":null}}},
{"data":{"name":"cls"},"mark":{"type":"text","font":"DejaVu Sans","fontSize":30,"align":"center","baseline":"middle","color":"black"},
"encoding":{"x":{"datum":0.061,"type":"quantitative","scale":{"domain":[-0.1,2.7],"nice":false,"zero":false},"axis":null},"y":{"field":"y","type":"quantitative","scale":{"type":"log","domain":[6e-7,0.003],"nice":false,"range":[414,38]},"axis":null},"text":{"field":"t"}}},
{"data":{"name":"ttl"},"transform":[{"filter":"datum.p=='b'"}],"mark":{"type":"text","font":"DejaVu Sans","fontSize":26,"align":"center","baseline":"alphabetic","color":"black"},
"encoding":{"x":{"datum":1.3,"type":"quantitative","scale":{"domain":[-0.1,2.7],"nice":false,"zero":false},"axis":null},"y":{"datum":0.00405,"type":"quantitative","scale":{"type":"log","domain":[6e-7,0.003],"nice":false,"range":[414,38]},"axis":null},"text":{"field":"title"}}},
{"data":{"name":"ttl"},"transform":[{"filter":"datum.p=='b'"}],"mark":{"type":"text","font":"Open Sans","fontSize":28,"fontWeight":"bold","align":"left","baseline":"alphabetic","color":"black"},
"encoding":{"x":{"datum":-0.405,"type":"quantitative","scale":{"domain":[-0.1,2.7],"nice":false,"zero":false},"axis":null},"y":{"datum":0.00405,"type":"quantitative","scale":{"type":"log","domain":[6e-7,0.003],"nice":false,"range":[414,38]},"axis":null},"text":{"field":"letter"}}}
],
"resolve":{"axis":{"x":"independent","y":"independent"}}},
{"width":465,"height":416,
"layer":[
{"data":{"name":"refs"},"mark":{"type":"rule","strokeDash":[2,5],"strokeWidth":2,"color":"black"},"encoding":{"y":{"field":"y","type":"quantitative","scale":{"type":"log","domain":[6e-7,0.003],"nice":false,"range":[416,55]},"axis":null}}},
{"data":{"name":"pts"},"transform":[{"filter":"datum.p=='c'&&datum.s=='b'"}],"mark":{"type":"point","shape":"M-1,0H1M0,-1V1","size":110,"filled":false,"strokeWidth":2,"color":"#1b5cff","opacity":1},
"encoding":{"x":{"field":"x","type":"quantitative","scale":{"domain":[-0.1,2.7],"nice":false,"zero":false},"axis":{"orient":"bottom","values":[0,0.5,1,1.5,2,2.5],"format":".1f","tickSize":-8,"labelPadding":27,"title":"SWF\u2002duration\u2002[hour]","titlePadding":8,"titleFontSize":23}},
"y":{"field":"y","type":"quantitative","scale":{"type":"log","domain":[6e-7,0.003],"nice":false,"range":[416,55]},"axis":{"orient":"left","values":[1e-6,1e-5,1e-4,0.001],"tickSize":-9,"labelPadding":16,"labelExpr":"'10' + (datum.value > 5e-4 ? '⁻³' : datum.value > 5e-5 ? '⁻⁴' : datum.value > 5e-6 ? '⁻⁵' : '⁻⁶')","title":"solar\u2002\u200aflare\u2002\u200apeak\u2002\u200aflux\u2002\u200a[mW/m²]","titlePadding":22,"titleFontSize":24}}}},
{"data":{"name":"pts"},"transform":[{"filter":"datum.p=='c'&&datum.s=='c'"}],"mark":{"type":"point","shape":"M-1,0H1M0,-1V1","size":110,"filled":false,"strokeWidth":2,"color":"#12e4f0","opacity":1},
"encoding":{"x":{"field":"x","type":"quantitative","scale":{"domain":[-0.1,2.7],"nice":false,"zero":false},"axis":{"orient":"top","offset":-55,"values":[0,0.5,1,1.5,2,2.5],"tickSize":-8,"labels":false,"title":null}},
"y":{"field":"y","type":"quantitative","scale":{"type":"log","domain":[6e-7,0.003],"nice":false,"range":[416,55]},"axis":{"orient":"right","values":[1e-6,1e-5,1e-4,0.001],"tickSize":-9,"labels":false,"title":null}}}},
{"data":{"name":"pts"},"transform":[{"filter":"datum.p=='c'&&datum.s=='r'"}],"mark":{"type":"point","shape":"M-1,0H1M0,-1V1","size":110,"filled":false,"strokeWidth":2,"color":"#ff1010","opacity":1},
"encoding":{"x":{"field":"x","type":"quantitative","scale":{"domain":[-0.1,2.7],"nice":false,"zero":false},"axis":{"orient":"bottom","values":[0.1,0.2,0.3,0.4,0.6,0.7,0.8,0.9,1.1,1.2,1.3,1.4,1.6,1.7,1.8,1.9,2.1,2.2,2.3,2.4,2.6],"tickSize":-4,"labels":false,"domain":false,"title":null}},
"y":{"field":"y","type":"quantitative","scale":{"type":"log","domain":[6e-7,0.003],"nice":false,"range":[416,55]},"axis":{"orient":"left","values":[7e-7,8e-7,9e-7,2e-6,3e-6,4e-6,5e-6,6e-6,7e-6,8e-6,9e-6,2e-5,3e-5,4e-5,5e-5,6e-5,7e-5,8e-5,9e-5,2e-4,3e-4,4e-4,5e-4,6e-4,7e-4,8e-4,9e-4,0.002],"tickSize":-5,"labels":false,"domain":false,"title":null}}}},
{"data":{"name":"med"},"transform":[{"filter":"datum.p=='c'&&datum.s=='b'"}],"mark":{"type":"line","color":"#1b5cff","strokeWidth":2.5},
"encoding":{"x":{"field":"x","type":"quantitative","scale":{"domain":[-0.1,2.7],"nice":false,"zero":false},"axis":{"orient":"top","offset":-55,"values":[0.1,0.2,0.3,0.4,0.6,0.7,0.8,0.9,1.1,1.2,1.3,1.4,1.6,1.7,1.8,1.9,2.1,2.2,2.3,2.4,2.6],"tickSize":-4,"labels":false,"domain":false,"title":null}},
"y":{"field":"y","type":"quantitative","scale":{"type":"log","domain":[6e-7,0.003],"nice":false,"range":[416,55]},"axis":{"orient":"right","values":[7e-7,8e-7,9e-7,2e-6,3e-6,4e-6,5e-6,6e-6,7e-6,8e-6,9e-6,2e-5,3e-5,4e-5,5e-5,6e-5,7e-5,8e-5,9e-5,2e-4,3e-4,4e-4,5e-4,6e-4,7e-4,8e-4,9e-4,0.002],"tickSize":-5,"labels":false,"domain":false,"title":null}}}},
{"data":{"name":"med"},"transform":[{"filter":"datum.p=='c'&&datum.s=='c'"}],"mark":{"type":"line","color":"#12e4f0","strokeWidth":5.5},
"encoding":{"x":{"field":"x","type":"quantitative","scale":{"domain":[-0.1,2.7],"nice":false,"zero":false},"axis":null},"y":{"field":"y","type":"quantitative","scale":{"type":"log","domain":[6e-7,0.003],"nice":false,"range":[416,55]},"axis":null}}},
{"data":{"name":"med"},"transform":[{"filter":"datum.p=='c'&&datum.s=='r'"}],"mark":{"type":"line","color":"#ff1010","strokeWidth":2.5},
"encoding":{"x":{"field":"x","type":"quantitative","scale":{"domain":[-0.1,2.7],"nice":false,"zero":false},"axis":null},"y":{"field":"y","type":"quantitative","scale":{"type":"log","domain":[6e-7,0.003],"nice":false,"range":[416,55]},"axis":null}}},
{"data":{"name":"cls"},"mark":{"type":"text","font":"DejaVu Sans","fontSize":30,"align":"center","baseline":"middle","color":"black"},
"encoding":{"x":{"datum":0.061,"type":"quantitative","scale":{"domain":[-0.1,2.7],"nice":false,"zero":false},"axis":null},"y":{"field":"y","type":"quantitative","scale":{"type":"log","domain":[6e-7,0.003],"nice":false,"range":[416,55]},"axis":null},"text":{"field":"t"}}},
{"data":{"name":"ttl"},"transform":[{"filter":"datum.p=='c'"}],"mark":{"type":"text","font":"DejaVu Sans","fontSize":26,"align":"center","baseline":"alphabetic","color":"black"},
"encoding":{"x":{"datum":1.3,"type":"quantitative","scale":{"domain":[-0.1,2.7],"nice":false,"zero":false},"axis":null},"y":{"datum":0.00405,"type":"quantitative","scale":{"type":"log","domain":[6e-7,0.003],"nice":false,"range":[416,55]},"axis":null},"text":{"field":"title"}}},
{"data":{"name":"ttl"},"transform":[{"filter":"datum.p=='c'"}],"mark":{"type":"text","font":"Open Sans","fontSize":28,"fontWeight":"bold","align":"left","baseline":"alphabetic","color":"black"},
"encoding":{"x":{"datum":-0.405,"type":"quantitative","scale":{"domain":[-0.1,2.7],"nice":false,"zero":false},"axis":null},"y":{"datum":0.00405,"type":"quantitative","scale":{"type":"log","domain":[6e-7,0.003],"nice":false,"range":[416,55]},"axis":null},"text":{"field":"letter"}}}
],
"resolve":{"axis":{"x":"independent","y":"independent"}}},
{"width":465,"height":135,"data":{"name":"cap"},
"layer":[
{"transform":[{"filter":"datum.part=='fig'"}],"mark":{"type":"text","font":"Lato","fontSize":19.5,"fontWeight":"bold","align":"left","baseline":"middle","color":"#231f20","dx":-115},
"encoding":{"x":{"value":0},"y":{"field":"line","type":"ordinal","axis":null,"scale":{"paddingInner":0,"paddingOuter":0}},"text":{"field":"text"}}},
{"transform":[{"filter":"datum.part=='first'"}],"mark":{"type":"text","font":"Lato","fontSize":19.5,"align":"left","baseline":"middle","color":"#231f20","dx":-54},
"encoding":{"x":{"value":0},"y":{"field":"line","type":"ordinal","axis":null,"scale":{"paddingInner":0,"paddingOuter":0}},"text":{"field":"text"}}},
{"transform":[{"filter":"datum.part=='rest'"}],"mark":{"type":"text","font":"Lato","fontSize":19.5,"align":"left","baseline":"middle","color":"#231f20","dx":-115},
"encoding":{"x":{"value":0},"y":{"field":"line","type":"ordinal","axis":null,"scale":{"paddingInner":0,"paddingOuter":0}},"text":{"field":"text"}}}
]}
],
"config":{"view":{"stroke":null},
"axis":{"domainColor":"black","domainWidth":2,"tickColor":"black","tickWidth":1.5,"grid":false,"labelFont":"DejaVu Sans","labelFontSize":20,"labelColor":"black","titleFont":"DejaVu Sans","titleFontSize":22,"titleFontWeight":"normal","titleColor":"black","labelFlush":false,"labelOverlap":false}}
}
